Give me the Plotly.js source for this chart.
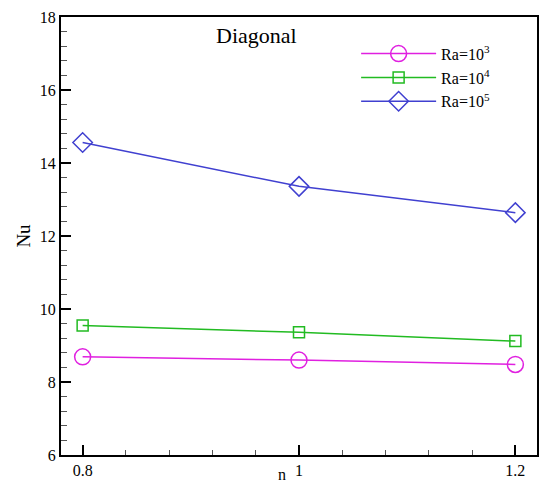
<!DOCTYPE html>
<html><head><meta charset="utf-8">
<script src="https://cdn.plot.ly/plotly-3.0.1.min.js"></script>
<style>html,body{margin:0;padding:0;background:#fff}</style>
</head><body>
<div id="chart" style="width:540px;height:484px"></div>
<script>
const nValues = [0.8, 1.0, 1.2];
const nuRa3 = [8.69, 8.60, 8.48];
const nuRa4 = [9.55, 9.36, 9.12];
const nuRa5 = [14.56, 13.36, 12.64];
const seriesNames = ['Ra=10<sup>3</sup>', 'Ra=10<sup>4</sup>', 'Ra=10<sup>5</sup>'];
const xTicks = [0.8, 1, 1.2];
const xTickText = ['0.8', '1', '1.2'];
const yTicks = [6, 8, 10, 12, 14, 16, 18];

const serif = '"Liberation Serif", "Times New Roman", serif';
const traces = [
  {x: nValues, y: nuRa3, name: seriesNames[0], mode: 'lines+markers',
   line: {color: '#e020e0', width: 1.5},
   marker: {symbol: 'circle-open', size: 16, color: '#e020e0', line: {width: 1.5}}},
  {x: nValues, y: nuRa4, name: seriesNames[1], mode: 'lines+markers',
   line: {color: '#22bb22', width: 1.5},
   marker: {symbol: 'square-open', size: 11, color: '#22bb22', line: {width: 1.5}}},
  {x: nValues, y: nuRa5, name: seriesNames[2], mode: 'lines+markers',
   line: {color: '#4040d0', width: 1.5},
   marker: {symbol: 'diamond-open', size: 15, color: '#4040d0', line: {width: 1.5}}}
];

const layout = {
  width: 540, height: 484,
  margin: {l: 61, r: 3, t: 17, b: 29},
  paper_bgcolor: '#fff', plot_bgcolor: '#fff',
  font: {family: serif, size: 16, color: '#000'},
  showlegend: true,
  legend: {x: 0.62, y: 0.955, xanchor: 'left', yanchor: 'top',
           bgcolor: 'rgba(0,0,0,0)', borderwidth: 0, itemwidth: 75,
           font: {family: serif, size: 16}, tracegroupgap: 0},
  xaxis: {range: [0.78, 1.22], tickvals: xTicks, ticktext: xTickText,
          ticks: 'inside', ticklen: 10, tickwidth: 2, tickcolor: '#000',
          showline: true, linewidth: 2, linecolor: '#000', mirror: true,
          showgrid: false, zeroline: false,
          minor: {dtick: 0.04, tick0: 0.8, ticks: 'inside', ticklen: 5, tickwidth: 1, tickcolor: '#555', showgrid: false}},
  yaxis: {range: [6, 18], tickvals: yTicks,
          ticks: 'inside', ticklen: 10, tickwidth: 2, tickcolor: '#000',
          showline: true, linewidth: 2, linecolor: '#000', mirror: true,
          showgrid: false, zeroline: false,
          minor: {dtick: 0.4, tick0: 6, ticks: 'inside', ticklen: 6, tickwidth: 1, tickcolor: '#555', showgrid: false},
          title: {text: 'Nu', font: {family: serif, size: 19}, standoff: 4}},
  annotations: [
    {text: 'Diagonal', xref: 'paper', yref: 'paper', x: 0.41, y: 0.99,
     xanchor: 'center', yanchor: 'top', showarrow: false,
     font: {family: serif, size: 22, color: '#000'}},
    {text: 'n', xref: 'paper', yref: 'paper', x: 0.465, y: -0.044,
     xanchor: 'center', yanchor: 'middle', showarrow: false, borderpad: 0,
     font: {family: serif, size: 16, color: '#000'}}
  ]
};
Plotly.newPlot('chart', traces, layout, {displayModeBar: false, staticPlot: true});
</script>
</body></html>
